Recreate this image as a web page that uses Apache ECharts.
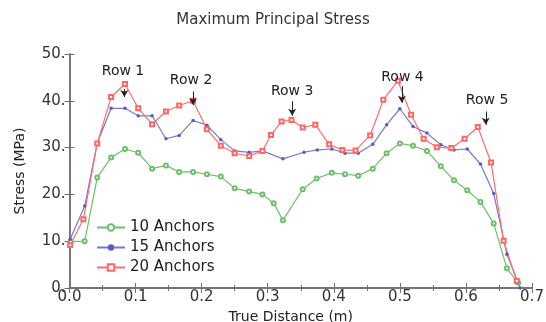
<!DOCTYPE html>
<html><head><meta charset="utf-8">
<script src="https://cdn.jsdelivr.net/npm/echarts@6/dist/echarts.min.js"></script>
<style>html,body{margin:0;padding:0;background:#fff}#c{width:546px;height:322px}</style>
</head><body><div id="c"></div>
<script>
var title = 'Maximum Principal Stress';
var xName = 'True Distance (m)';
var yName = 'Stress (MPa)';
var seriesNames = ['10 Anchors', '15 Anchors', '20 Anchors'];

var greenX = [0.002,0.023,0.042,0.063,0.084,0.104,0.125,0.146,0.166,0.187,0.208,0.229,0.250,0.272,0.292,0.309,0.323,0.353,0.374,0.397,0.417,0.437,0.459,0.480,0.500,0.520,0.541,0.562,0.582,0.602,0.622,0.642,0.662,0.679];
var greenY = [9.9,10.0,23.6,27.9,29.7,28.9,25.5,26.2,24.8,24.8,24.3,23.8,21.3,20.6,20.0,18.1,14.5,21.1,23.4,24.6,24.3,24.0,25.5,28.8,30.9,30.4,29.3,26.0,23.0,20.9,18.4,13.8,4.2,1.1];

var blueX = [0.001,0.023,0.042,0.063,0.084,0.104,0.125,0.146,0.166,0.187,0.208,0.229,0.250,0.272,0.292,0.323,0.355,0.375,0.397,0.417,0.437,0.459,0.480,0.500,0.520,0.541,0.562,0.582,0.602,0.622,0.642,0.662,0.682];
var blueY = [10.4,17.5,31.0,38.4,38.4,36.8,36.8,31.9,32.6,35.8,34.8,31.7,29.3,29.0,29.3,27.6,29.0,29.5,29.7,28.8,28.8,30.7,34.9,38.3,34.5,33.1,30.6,29.5,29.7,26.5,20.2,7.2,0.0];

var redX = [0.001,0.021,0.042,0.063,0.084,0.104,0.125,0.146,0.166,0.187,0.208,0.229,0.250,0.272,0.292,0.305,0.321,0.336,0.353,0.372,0.393,0.413,0.433,0.455,0.475,0.497,0.517,0.536,0.556,0.578,0.598,0.618,0.638,0.657,0.677];
var redY = [9.2,14.7,30.9,40.8,43.6,38.4,35.0,37.7,39.0,40.0,33.9,30.4,28.8,28.2,29.3,32.7,35.6,35.9,34.3,34.9,30.7,29.5,29.4,32.6,40.2,44.3,37.0,31.9,30.1,29.9,31.9,34.4,26.8,10.1,1.5];

var rowLabels = ['Row 1','Row 2','Row 3','Row 4','Row 5'];
var rowX = [0.083,0.187,0.337,0.503,0.630];
var rowTextX = [0.081,0.184,0.337,0.504,0.632];
var rowTextY = [46.3,44.3,42.0,45.0,40.0];
var arrowTop = [42.5,42.0,39.9,43.1,37.7];
var arrowBottom = [40.8,39.1,36.8,39.6,34.9];

function pairs(xs, ys){ return xs.map(function(x,i){ return [x, ys[i]]; }); }

var FONT = 'DejaVu Sans';
var axisColor = '#6f6f6f';
var chart = echarts.init(document.getElementById('c'), null, {renderer:'canvas'});

var mpData = rowLabels.map(function(t,i){
  return {coord:[rowTextX[i], rowTextY[i]], value:t, label:{formatter:t}};
});
var mlData = rowLabels.map(function(t,i){
  return [{coord:[rowX[i], arrowTop[i]]},{coord:[rowX[i], arrowBottom[i]]}];
});

var option = {
  animation:false,
  backgroundColor:'#fff',
  title:{text:title, left:'center', top:8, textStyle:{fontFamily:FONT, fontSize:15, fontWeight:'normal', color:'#333'}},
  grid:{left:69.5, right:14, top:54, bottom:34, containLabel:false, outerBoundsMode:'none'},
  legend:{
    data:seriesNames, orient:'vertical', left:91, top:215, itemWidth:28, itemHeight:8, itemGap:5,
    textStyle:{fontFamily:FONT, fontSize:15, color:'#222', lineHeight:14}
  },
  xAxis:[{
    type:'value', min:0, max:0.7, interval:0.1,
    name:xName, nameLocation:'middle', nameGap:18,
    nameTextStyle:{fontFamily:FONT, fontSize:14, color:'#222', padding:[0,20,0,0]},
    axisLine:{lineStyle:{color:axisColor, width:1.5}},
    axisTick:{inside:true, length:5, lineStyle:{color:axisColor}},
    minorTick:{show:true, splitNumber:2, length:3, lineStyle:{color:axisColor}},
    splitLine:{show:false},
    axisLabel:{fontFamily:FONT, fontSize:15, color:'#333', margin:2, formatter:function(v){return v.toFixed(1);}}
  },{
    type:'value', min:0, max:0.7, interval:0.1, position:'top',
    axisLine:{lineStyle:{color:axisColor, width:1.5}},
    axisTick:{inside:true, length:5, lineStyle:{color:axisColor}},
    minorTick:{show:true, splitNumber:2, length:3, lineStyle:{color:axisColor}},
    splitLine:{show:false}, axisLabel:{show:false}
  }],
  yAxis:[{
    type:'value', min:0, max:50, interval:10,
    name:yName, nameLocation:'middle', nameGap:42,
    nameTextStyle:{fontFamily:FONT, fontSize:14, color:'#222'},
    axisLine:{show:true, lineStyle:{color:axisColor, width:1.5}},
    axisTick:{show:true, inside:true, length:5, lineStyle:{color:axisColor}},
    splitLine:{show:false},
    axisLabel:{fontFamily:FONT, fontSize:15, color:'#333', margin:4, formatter:function(v){return v + '.';}}
  },{
    type:'value', min:0, max:50, interval:10, position:'right',
    axisLine:{show:true, lineStyle:{color:axisColor, width:1.5}},
    axisTick:{show:true, inside:true, length:5, lineStyle:{color:axisColor}},
    splitLine:{show:false}, axisLabel:{show:false}
  }],
  series:[
    {name:seriesNames[0], type:'line', data:pairs(greenX, greenY), color:'#6cbf6c',
     symbol:'emptyCircle', symbolSize:4, lineStyle:{width:1.2, color:'#6cbf6c'}, itemStyle:{color:'#6cbf6c', borderWidth:1}},
    {name:seriesNames[1], type:'line', data:pairs(blueX, blueY), color:'#6f6fcf',
     symbol:'circle', symbolSize:3.5, lineStyle:{width:1.2, color:'#7878d2'}, itemStyle:{color:'#5a5ac8'}},
    {name:seriesNames[2], type:'line', data:pairs(redX, redY), color:'#ff6666',
     symbol:'emptyRect', symbolSize:4, lineStyle:{width:1.2, color:'#ff6e6e'}, itemStyle:{color:'#ff6666', borderWidth:1}},
    {name:'annot', type:'line', data:[], silent:true,
     markPoint:{symbol:'circle', symbolSize:0, data:mpData,
       label:{show:true, position:'inside', fontFamily:FONT, fontSize:14, color:'#222'}},
     markLine:{silent:true, symbol:['none','arrow'], symbolSize:[6,7],
       lineStyle:{color:'#222', width:1, type:'solid'}, label:{show:false}, data:mlData}
    }
  ]
};
chart.setOption(option);
</script></body></html>
